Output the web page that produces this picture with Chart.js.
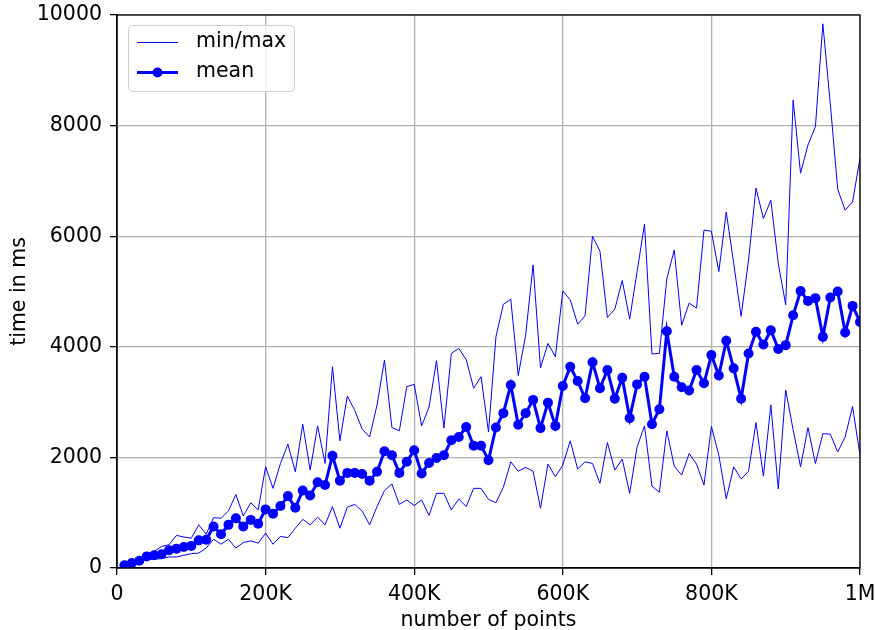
<!DOCTYPE html>
<html>
<head>
<meta charset="utf-8">
<script src="https://cdn.jsdelivr.net/npm/chart.js@4"></script>
<style>
  html, body { margin: 0; padding: 0; background: #fff; }
  #wrap { width: 875px; height: 630px; }
</style>
</head>
<body>
<div id="wrap"><canvas id="timingChart" width="875" height="630"></canvas></div>
<script>
// number of points, in thousands
const pointsK = [
  10, 20, 30, 40, 50, 60, 70, 80, 90, 100,
  110, 120, 130, 140, 150, 160, 170, 180, 190, 200,
  210, 220, 230, 240, 250, 260, 270, 280, 290, 300,
  310, 320, 330, 340, 350, 360, 370, 380, 390, 400,
  410, 420, 430, 440, 450, 460, 470, 480, 490, 500,
  510, 520, 530, 540, 550, 560, 570, 580, 590, 600,
  610, 620, 630, 640, 650, 660, 670, 680, 690, 700,
  710, 720, 730, 740, 750, 760, 770, 780, 790, 800,
  810, 820, 830, 840, 850, 860, 870, 880, 890, 900,
  910, 920, 930, 940, 950, 960, 970, 980, 990, 1000
];

const meanMs = [
  50, 90, 130, 210, 230, 250, 320, 350, 380, 400,
  500, 510, 750, 610, 780, 900, 750, 870, 800, 1060,
  980, 1120, 1300, 1090, 1400, 1310, 1550, 1500, 2030, 1580,
  1720, 1720, 1700, 1580, 1740, 2110, 2040, 1720, 1920, 2130,
  1710, 1900, 1990, 2040, 2310, 2370, 2550, 2210, 2210, 1950,
  2540, 2800, 3310, 2590, 2800, 3040, 2530, 2990, 2570, 3290,
  3640, 3380, 3070, 3720, 3250, 3580, 3060, 3440, 2710, 3320,
  3460, 2600, 2870, 4280, 3460, 3270, 3210, 3580, 3340, 3850,
  3480, 4110, 3610, 3060, 3880, 4270, 4040, 4300, 3960, 4030,
  4570, 5010, 4830, 4880, 4180, 4890, 5000, 4260, 4740, 4450
];

const maxMs = [
  70, 110, 170, 250, 300, 390, 420, 590, 560, 540,
  780, 610, 910, 900, 1030, 1330, 940, 1180, 1050, 1830,
  1440, 1890, 2240, 1740, 2600, 1770, 2570, 1890, 3640, 2300,
  3110, 2850, 2510, 2370, 2950, 3760, 2540, 2480, 3280, 3320,
  2570, 2910, 3750, 2530, 3880, 3970, 3770, 3250, 3460, 2460,
  4180, 4770, 4860, 3480, 4210, 5480, 3620, 4060, 3820, 5010,
  4850, 4410, 4560, 6000, 5730, 4530, 4680, 5200, 4500, 5360,
  6220, 3870, 3880, 5230, 5750, 4390, 4790, 4700, 6110, 6090,
  5360, 6440, 5510, 4550, 5570, 6870, 6320, 6650, 5510, 4760,
  8460, 7140, 7650, 7980, 9840, 8400, 6850, 6470, 6620, 7410
];

const minMs = [
  40, 60, 100, 150, 160, 170, 200, 200, 230, 260,
  270, 360, 520, 430, 520, 360, 460, 490, 450, 630,
  430, 570, 550, 720, 880, 780, 920, 780, 1110, 720,
  1100, 1150, 1030, 780, 1110, 1400, 1520, 1150, 1230, 1130,
  1230, 950, 1350, 1350, 1050, 1250, 1110, 1440, 1440, 1240,
  1180, 1460, 1920, 1750, 1820, 1750, 1080, 1880, 1650, 1860,
  2300, 1790, 1920, 1890, 1530, 2270, 1770, 1970, 1350, 2190,
  2570, 1480, 1370, 2480, 1840, 1680, 2070, 1880, 1500, 2560,
  2040, 1250, 1830, 1610, 1750, 2630, 1660, 2950, 1430, 3220,
  2500, 1830, 2540, 1890, 2430, 2420, 2100, 2370, 2920, 2040
];

const xTickValues = [0, 200000, 400000, 600000, 800000, 1000000];
const xTickLabels = ['0', '200K', '400K', '600K', '800K', '1M'];
const yTickValues = [0, 2000, 4000, 6000, 8000, 10000];
const yTickLabels = ['0', '2000', '4000', '6000', '8000', '10000'];

const BLUE = '#0000ff';
const FONT = "'DejaVu Sans', sans-serif";
const FONT_SIZE = 20.5;

const toXY = (vals) => vals.map((v, i) => ({ x: pointsK[i] * 1000, y: v }));

// box round the plot and the legend in the top left corner
const framePlugin = {
    id: 'frame',
    afterDatasetsDraw(chart) {
        const { ctx, chartArea: a } = chart;
        ctx.save();
        ctx.strokeStyle = '#000';
        ctx.lineWidth = 1.3;
        ctx.strokeRect(a.left, a.top, a.right - a.left, a.bottom - a.top);

        // legend
        const bx = 128.5, by = 25.5, bw = 166, bh = 66, r = 4;
        ctx.beginPath();
        ctx.moveTo(bx + r, by);
        ctx.arcTo(bx + bw, by, bx + bw, by + bh, r);
        ctx.arcTo(bx + bw, by + bh, bx, by + bh, r);
        ctx.arcTo(bx, by + bh, bx, by, r);
        ctx.arcTo(bx, by, bx + bw, by, r);
        ctx.closePath();
        ctx.fillStyle = 'rgba(255,255,255,0.8)';
        ctx.fill();
        ctx.strokeStyle = '#cccccc';
        ctx.lineWidth = 1;
        ctx.stroke();

        ctx.strokeStyle = BLUE;
        ctx.lineWidth = 1;
        ctx.beginPath();
        ctx.moveTo(137, 42.5);
        ctx.lineTo(178, 42.5);
        ctx.stroke();

        ctx.lineWidth = 3;
        ctx.beginPath();
        ctx.moveTo(137, 72.5);
        ctx.lineTo(178, 72.5);
        ctx.stroke();
        ctx.fillStyle = BLUE;
        ctx.beginPath();
        ctx.arc(157.5, 72.5, 5, 0, Math.PI * 2);
        ctx.fill();

        ctx.fillStyle = '#000';
        ctx.font = FONT_SIZE + 'px ' + FONT;
        ctx.textBaseline = 'middle';
        ctx.textAlign = 'left';
        ctx.fillText(chart.data.datasets[0].label, 196, 42);
        ctx.fillText(chart.data.datasets[2].label, 196, 72);
        ctx.restore();
    }
};

Chart.defaults.font.family = FONT;
Chart.defaults.font.size = FONT_SIZE;
Chart.defaults.color = '#000';

const ctx = document.getElementById('timingChart');
new Chart(ctx, {
    type: 'line',
    data: {
        datasets: [
            {
                label: 'min/max',
                data: toXY(maxMs),
                borderColor: BLUE,
                borderWidth: 1,
                pointRadius: 0,
                tension: 0,
                order: 2
            },
            {
                label: 'min/max',
                data: toXY(minMs),
                borderColor: BLUE,
                borderWidth: 1,
                pointRadius: 0,
                tension: 0,
                order: 2
            },
            {
                label: 'mean',
                data: toXY(meanMs),
                borderColor: BLUE,
                backgroundColor: BLUE,
                borderWidth: 3,
                pointRadius: 5,
                pointBorderWidth: 0,
                pointBackgroundColor: BLUE,
                tension: 0,
                order: 1
            }
        ]
    },
    options: {
        responsive: false,
        animation: false,
        layout: { padding: { left: 0, top: 15, right: 15, bottom: 0 } },
        plugins: {
            legend: { display: false },
            tooltip: { enabled: false }
        },
        scales: {
            x: {
                type: 'linear',
                min: 0,
                max: 1000000,
                afterBuildTicks: (scale) => {
                    scale.ticks = xTickValues.map(v => ({ value: v }));
                },
                afterFit: (scale) => {
                    scale.height = 62;
                    scale.paddingLeft = 0;
                    scale.paddingRight = 0;
                },
                ticks: {
                    padding: 7,
                    maxRotation: 0,
                    autoSkip: false,
                    callback: (v) => xTickLabels[xTickValues.indexOf(v)]
                },
                grid: { color: '#b0b0b0', lineWidth: 1.3, tickColor: '#000', tickLength: 7 },
                border: { color: '#000', width: 1.3 },
                title: { display: true, text: 'number of points', padding: { top: 0, bottom: -3 } }
            },
            y: {
                min: 0,
                max: 10000,
                afterBuildTicks: (scale) => {
                    scale.ticks = yTickValues.map(v => ({ value: v }));
                },
                afterFit: (scale) => {
                    scale.width = 117;
                    scale.paddingTop = 0;
                    scale.paddingBottom = 0;
                },
                ticks: {
                    padding: 8,
                    callback: (v) => yTickLabels[yTickValues.indexOf(v)]
                },
                grid: { color: '#b0b0b0', lineWidth: 1.3, tickColor: '#000', tickLength: 7 },
                border: { color: '#000', width: 1.3 },
                title: { display: true, text: 'time in ms', padding: { top: 7, bottom: 0 } }
            }
        }
    },
    plugins: [framePlugin]
});
</script>
</body>
</html>
